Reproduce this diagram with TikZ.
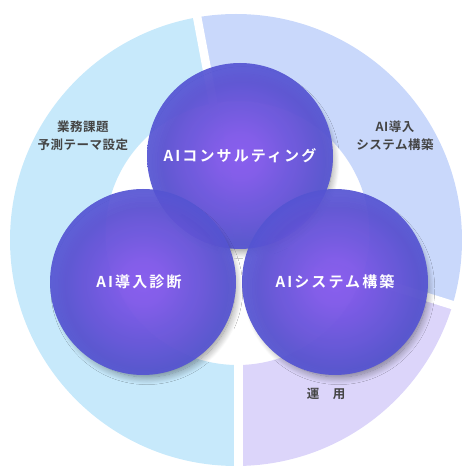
\documentclass[tikz,border=0pt]{standalone}
\usepackage{fontspec}
\newfontfamily\ballfont[LetterSpace=14]{Noto Sans CJK JP Bold}
\newfontfamily\ringfont[LetterSpace=4]{Noto Sans CJK JP Bold}
\usepackage{tikz}
\usetikzlibrary{calc}
\usetikzlibrary{shadows.blur}

\definecolor{ringblue}{HTML}{C7E9FB}
\definecolor{ringperi}{HTML}{C9D8FB}
\definecolor{ringlav}{HTML}{DCD5FA}
\definecolor{ballcore}{HTML}{8A5CF6}
\definecolor{balledge}{HTML}{5454D2}
\definecolor{ringgray}{HTML}{444444}
\pgfdeclareradialshading{ballshade}{\pgfpoint{0bp}{0bp}}{color(0bp)=(ballcore); color(6bp)=(ballcore!85!balledge); color(25bp)=(balledge); color(50bp)=(balledge)}

\begin{document}
\begin{tikzpicture}[x=1pt,y=1pt,
    ball/.style={circle, minimum size=186pt, inner sep=0pt, shading=ballshade, fill opacity=.92, text opacity=1,
      text=white, font=\ballfont\fontsize{15}{17}\selectfont,
      blur shadow={shadow scale=.95, shadow xshift=4pt, shadow yshift=-7pt, shadow opacity=50,
        shadow blur radius=8pt, shadow blur steps=14}},
    ringtext/.style={align=center, text=ringgray, font=\ringfont\fontsize{12.5}{18}\selectfont},
    gap/.style={white, line width=8.5pt}]

      \useasboundingbox (0,0) rectangle (461,466);

      \coordinate (c) at (238.5,228); % wedge centre
      \coordinate (oc) at (236,226);
      \coordinate (ic) at (237.5,233);

      % ring segments
      \foreach \a/\b/\col in {100.6/270/ringblue, -17.4/100.6/ringperi, -90/-17.4/ringlav}{
        \begin{scope}
          \clip (c) -- +(\a:400) arc[start angle=\a, end angle=\b, radius=400] -- cycle;
          \fill[\col, even odd rule] (oc) circle (226) (ic) circle (132);
        \end{scope}
      }
      \draw[gap] (c) -- +(100.6:260);
      \draw[gap] (c) -- +(-17.4:260);
      \draw[gap] (c) -- +(-90:260);

      \node[ringtext] (task) at (83,330) {業務課題\\予測テーマ設定};
      \node[ringtext] (sys) at (395,330) {AI導入\\システム構築};
      \node[ringtext] (ops) at (326,72) {運　用};

      % the three circles
      \node[ball] (consult) at (240,310) {AIコンサルティング};
      \node[ball] (diag) at (143,184) {\hspace*{-8pt}AI導入診断};
      \node[ball] (build) at (335,184) {AIシステム構築};
    \end{tikzpicture}
\end{document}
